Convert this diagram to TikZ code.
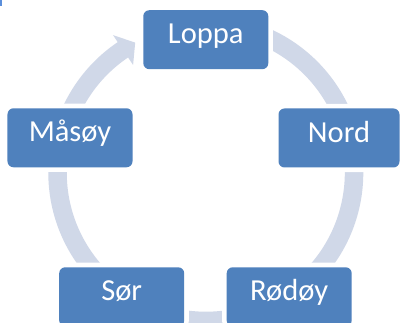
\documentclass[tikz,border=0pt]{standalone}
\usepackage{fontspec}
\setmainfont{Carlito}
\definecolor{boxblue}{HTML}{4F81BD}
\definecolor{bandcol}{HTML}{D0D8E8}
\definecolor{markblue}{HTML}{5B8FDB}
\tikzset{
  cyclebox/.style={
    preaction={draw=white, line width=7pt},
    fill=boxblue, rounded corners=4.5pt, inner sep=0pt,
    minimum width=93.75pt, minimum height=44.25pt,
    text=white, font=\fontsize{22.9}{27}\selectfont,
    text height=0.63em, text depth=0pt, align=center}
}
\begin{document}
\begin{tikzpicture}[x=0.75pt, y=0.75pt]
\useasboundingbox (0,0) rectangle (401,-323);
\fill[white] (0,0) rectangle (401,-323);
\coordinate (C) at (205.8,-172.7);
% continuous cycle arrow
\fill[bandcol] ([shift={(C)}]90:157.5) arc[start angle=90, end angle=-236, radius=157.5]
  -- ([shift={(C)}]124:166) -- ([shift={(C)}]118.5:148) -- ([shift={(C)}]124:130)
  -- ([shift={(C)}]124:139) arc[start angle=-236, end angle=90, radius=139] -- cycle;
% boxes
\node[cyclebox] (loppa) at (205.8,-39.7) {Loppa};
\node[cyclebox, minimum width=90.75pt] (nord) at (339,-138) {Nord};
\node[cyclebox] (rodoy) at (289.2,-296.8) {Rødøy};
\node[cyclebox] (sor) at (121.7,-296.8) {Sør};
\node[cyclebox] (masoy) at (70,-137.8) {Måsøy};
% small mark at the top left corner
\fill[markblue] (0,0) rectangle (2.5,-5.7);
\end{tikzpicture}
\end{document}
